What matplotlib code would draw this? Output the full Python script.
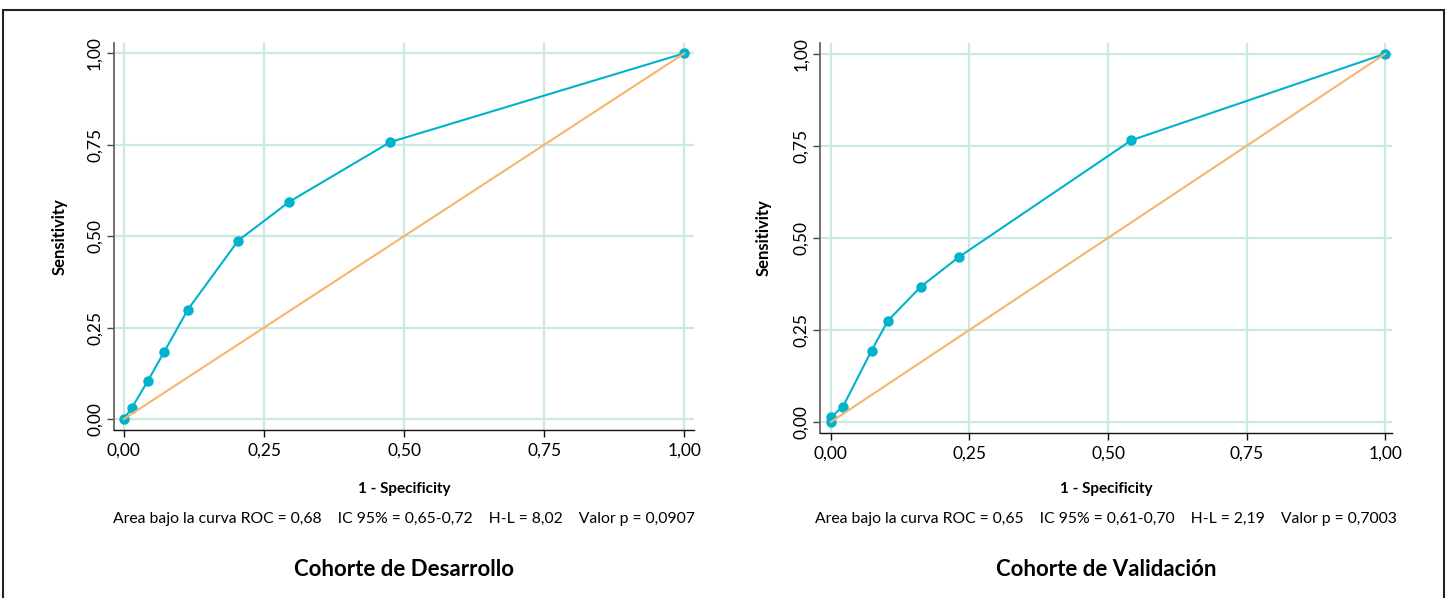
import matplotlib
matplotlib.use("Agg")
import matplotlib.pyplot as plt
from matplotlib.patches import Rectangle

plt.rcParams['font.family'] = ['Lato', 'DejaVu Sans']

# Data
dev_fpr = [0.0, 0.014, 0.043, 0.072, 0.114, 0.204, 0.295, 0.475, 1.0]
dev_tpr = [0.0, 0.030, 0.105, 0.184, 0.299, 0.488, 0.594, 0.757, 1.0]
val_fpr = [0.0, 0.0, 0.022, 0.0735, 0.103, 0.162, 0.231, 0.542, 1.0]
val_tpr = [0.0, 0.013, 0.042, 0.194, 0.275, 0.367, 0.448, 0.765, 1.0]
ref_line = [0.0, 1.0]
ticks = [0.0, 0.25, 0.5, 0.75, 1.0]
tick_labels = ['0,00', '0,25', '0,50', '0,75', '1,00']
stats_dev = "Area bajo la curva ROC = 0,68    IC 95% = 0,65-0,72    H-L = 8,02    Valor p = 0,0907"
stats_val = "Area bajo la curva ROC = 0,65    IC 95% = 0,61-0,70    H-L = 2,19    Valor p = 0,7003"
titles = ["Cohorte de Desarrollo", "Cohorte de Validación"]

W, H = 1446, 598
fig = plt.figure(figsize=(W / 100, H / 100), dpi=100)

def fx(px):
    return px / W

def fy(py):
    return 1 - py / H

# border
fig.patches.append(Rectangle((fx(3), -0.05), fx(1444) - fx(3), fy(10) + 0.05,
                             transform=fig.transFigure, fill=False,
                             edgecolor='#222222', linewidth=1.5))

GRID = '#cbe9e3'
CYAN = '#00b3cc'
ORANGE = '#f7b46c'

axes_px = [(113.8, 694, 43, 430, (-0.018, 1.017), (-0.030, 1.028), 60),
           (820, 1392, 43, 432.7, (-0.0195, 1.012), (-0.029, 1.029), 764)]
data = [(dev_fpr, dev_tpr, stats_dev), (val_fpr, val_tpr, stats_val)]

for i, ((l, r, t, b, xl, yl, ylx), (xs, ys, stats)) in enumerate(zip(axes_px, data)):
    ax = fig.add_axes([fx(l), fy(b), fx(r) - fx(l), fy(t) - fy(b)])
    ax.set_xlim(*xl)
    ax.set_ylim(*yl)
    for s in ['top', 'right']:
        ax.spines[s].set_visible(False)
    ax.spines['left'].set_color('#666666')
    ax.spines['left'].set_linewidth(1.3)
    ax.spines['bottom'].set_color('#111111')
    ax.spines['bottom'].set_linewidth(1.0)
    ax.set_xticks(ticks)
    ax.set_yticks(ticks)
    ax.set_xticklabels(tick_labels, fontsize=12.5)
    ax.set_yticklabels(tick_labels, fontsize=12.5, rotation=90, va='center')
    ax.tick_params(axis='x', length=5, width=1, color='#111111', pad=4)
    ax.tick_params(axis='y', length=5, width=1, color='#444444', pad=3)
    ax.grid(True, color=GRID, linewidth=1.6)
    ax.set_axisbelow(True)
    ax.plot(xs, ys, color=CYAN, linewidth=1.5, marker='o', markersize=6.5,
            zorder=3, clip_on=False)
    ax.plot(ref_line, ref_line, color=ORANGE, linewidth=1.5, zorder=4, clip_on=False)
    cx = (fx(l) + fx(r)) / 2
    fig.text(fx(ylx), (fy(t) + fy(b)) / 2, 'Sensitivity', fontsize=12, fontweight='bold',
             rotation=90, ha='center', va='center')
    fig.text(cx, fy(489), '1 - Specificity', fontsize=11, fontweight='bold',
             ha='center', va='center')
    fig.text(cx, fy(519), stats, fontsize=11.3, ha='center', va='center')
    fig.text(cx, fy(570), titles[i], fontsize=16, fontweight='bold', ha='center', va='center')

fig.savefig('out.png', dpi=100, facecolor='white')
